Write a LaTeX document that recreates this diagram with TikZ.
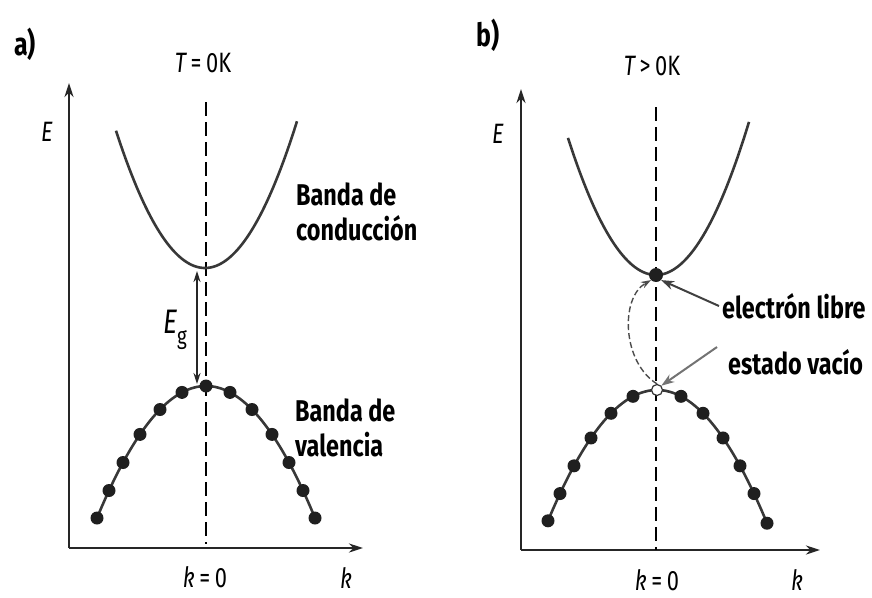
\documentclass[tikz,border=0pt]{standalone}
\usepackage{fontspec}
\setmainfont[FakeStretch=0.78]{Fira Sans}
\usetikzlibrary{arrows.meta}
\begin{document}
\begin{tikzpicture}[x=1pt,y=-1pt,
  axis/.style={line width=2.4pt,draw=black!85,-{Stealth[length=14pt,width=9pt]}},
  band/.style={line width=2.6pt,draw=black!78},
  kline/.style={line width=1.8pt,dash pattern=on 14pt off 6pt,draw=black},
  dot/.style={circle,fill=black!88,inner sep=0pt,minimum size=13pt},
  hole/.style={circle,draw=black!80,fill=white,line width=1.2pt,inner sep=0pt,minimum size=11pt},
  lbl/.style={font=\bfseries\fontsize{30}{35}\selectfont,align=left,inner sep=0pt,anchor=west},
  ax/.style={font=\fontsize{28}{30}\selectfont,inner sep=0pt},
  ptr/.style={line width=2pt,draw=black!75,-{Stealth[length=13pt,width=9pt]}}
]
\useasboundingbox (0,0) rectangle (872,597);

% ---------- panel a ----------
\node[font=\bfseries\fontsize{32}{34}\selectfont] (la) at (25,44) {a)};
\node[ax] (Ta) at (203,63) {\itshape T\upshape\,=\,0K};
\coordinate (Oa) at (69,548);
\coordinate (Ya) at (69,83);
\coordinate (Xa) at (363,548);
\draw[axis] (Oa) -- (Ya);
\draw[axis] (Oa) -- (Xa);
\node[ax] (Ea) at (47,132) {\itshape E};
\node[ax] (ka) at (346,578) {\itshape k};
\node[ax] (k0a) at (205,577) {\itshape k\upshape\,=\,0};
\coordinate (Da1) at (206,102);
\coordinate (Da2) at (206,544);
\draw[kline] (Da1) -- (Da2);
\draw[band] plot[domain=-89:92,samples=80] ({205+\x},{268-142*(\x/90.5)^2});
\draw[band] plot[domain=-109:109,samples=80] ({206+\x},{386+132*(\x/109)^2});
\foreach \d in {-109,-97,-83,-66,-46,-24,0,24,46,66,83,97,109}
  \node[dot] at ({206+\d},{386+132*(\d/109)^2}) {};
\coordinate (Ga1) at (197,271);
\coordinate (Ga2) at (197,384);
\draw[line width=1.6pt,draw=black!85,{Stealth[length=11pt,width=7pt]}-{Stealth[length=11pt,width=7pt]}] (Ga1) -- (Ga2);
\node[font=\fontsize{34}{36}\selectfont,inner sep=0pt] (Eg) at (175,330) {\itshape E\upshape\raisebox{-0.32em}{\fontsize{24}{26}\selectfont g}};
\node[lbl] (cba) at (296,212) {Banda de\\conducción};
\node[lbl] (vba) at (295,428) {Banda de\\valencia};

% ---------- panel b ----------
\node[font=\bfseries\fontsize{32}{34}\selectfont] (lb) at (488,35) {b)};
\node[ax] (Tb) at (652,66) {\itshape T\upshape\,>\,0K};
\coordinate (Ob) at (521,550);
\coordinate (Yb) at (521,89);
\coordinate (Xb) at (820,550);
\draw[axis] (Ob) -- (Yb);
\draw[axis] (Ob) -- (Xb);
\node[ax] (Eb) at (498,134) {\itshape E};
\node[ax] (kb) at (797,580) {\itshape k};
\node[ax] (k0b) at (657,580) {\itshape k\upshape\,=\,0};
\coordinate (Db1) at (656,107);
\coordinate (Db2) at (656,550);
\draw[kline] (Db1) -- (Db2);
\draw[band] plot[domain=-88:93,samples=80] ({656+\x},{275-145*(\x/90.5)^2});
\draw[band] plot[domain=-109:110,samples=80] ({657+\x},{390+132*(\x/109.5)^2});
\foreach \d in {-109,-97,-83,-66,-46,-24,24,46,66,83,97,110}
  \node[dot] at ({657+\d},{390+132*(\d/109.5)^2}) {};
\node[dot,minimum size=14pt] (el) at (656,275) {};
\node[hole] (ho) at (657,390) {};
\draw[line width=1.4pt,draw=black!70,dash pattern=on 6pt off 3pt,-{Stealth[length=10pt,width=7pt]}]
  (ho.north) .. controls (622,362) and (620,298) .. (el.south west);
\node[lbl] (elab) at (722,306) {electrón libre};
\node[lbl] (hlab) at (728,362) {estado vacío};
\draw[ptr] ([xshift=-3pt]elab.west) -- (el.south east);
\draw[ptr,draw=black!55] ([xshift=-11pt,yshift=2pt]hlab.north west) -- (ho.north east);
\end{tikzpicture}
\end{document}
